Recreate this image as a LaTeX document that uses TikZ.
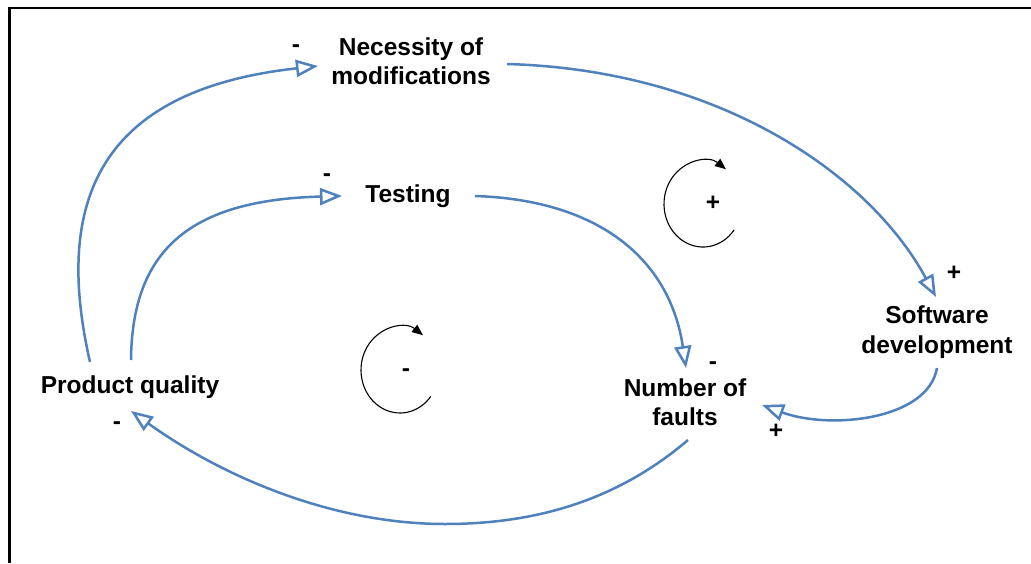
\documentclass[tikz,border=0pt]{standalone}
\usepackage{fontspec}
\setmainfont{Liberation Sans}
\usetikzlibrary{arrows.meta}
\definecolor{linkblue}{RGB}{79,129,189}
\begin{document}
\begin{tikzpicture}[x=1pt,y=-1pt,
  font=\bfseries\fontsize{24.5}{29.5}\selectfont,
  lbl/.style={align=center, inner sep=0pt},
  sgn/.style={inner sep=0pt, anchor=base},
  link/.style={draw=linkblue, line width=2.5pt, -{Triangle[open, length=22pt, width=17pt]}},
  looparrow/.style={draw=black, line width=1.1pt, -{Triangle[length=11pt, width=9pt]}},
  frame/.style={draw=black, line width=2.6pt}]
\useasboundingbox (0,0) rectangle (1031,563);
\fill[white] (0,0) rectangle (1031,563);
\draw[frame] (9.5,563) -- (9.5,8) -- (1031,8);

% concepts
\node[lbl] (nec) at (411,61) {Necessity of\\modifications};
\node[lbl, anchor=base] (test) at (408,202) {Testing};
\node[lbl] (soft) at (937,332) {Software\\development};
\node[lbl] (faults) at (685,402) {Number of\\faults};
\node[lbl, anchor=base] (pq) at (130,393) {Product quality};

% connector ends
\coordinate (pqA) at (90,362);
\coordinate (pqB) at (131,360);
\coordinate (pqIn) at (131,411);
\coordinate (necIn) at (318,66);
\coordinate (necOut) at (507,64);
\coordinate (testIn) at (342,196);
\coordinate (testOut) at (475,196);
\coordinate (softIn) at (936,297);
\coordinate (softOut) at (937,368);
\coordinate (fIn1) at (686,368);
\coordinate (fIn2) at (762,405);
\coordinate (fOut) at (688,440);

% links
\draw[link] (pqA) .. controls (53,200) and (100,90) .. (necIn);
\draw[link] (pqB) .. controls (132,250) and (190,200) .. (testIn);
\draw[link] (testOut) .. controls (600,200) and (670,260) .. (fIn1);
\draw[link] (necOut) .. controls (720,70) and (870,175) .. (softIn);
\draw[link] (softOut) .. controls (928,420) and (830,430) .. (fIn2);
\draw[link] (fOut) .. controls (620,498) and (540,524) .. (445,524) .. controls (330,524) and (220,475) .. (pqIn);

% polarity signs
\node[sgn] (sNec) at (296,52.5) {-};
\node[sgn] (sTest) at (327,181.5) {-};
\node[sgn] (sSoft) at (954,280.5) {+};
\node[sgn] (sF1) at (713,369.5) {-};
\node[sgn] (sF2) at (776,438.5) {+};
\node[sgn] (sPq) at (117,429.5) {-};

% loop markers
\node[sgn] (loopPos) at (713,210.5) {+};
\node[sgn] (loopNeg) at (406,376.5) {-};
\coordinate (cPos) at (703,204);
\coordinate (cNeg) at (400,370);
\draw[looparrow] (cPos) ++(37:39 and 43) arc[start angle=37, end angle=306, x radius=39, y radius=43];
\draw[looparrow] (cNeg) ++(38:39 and 43) arc[start angle=38, end angle=306, x radius=39, y radius=43];
\end{tikzpicture}
\end{document}
